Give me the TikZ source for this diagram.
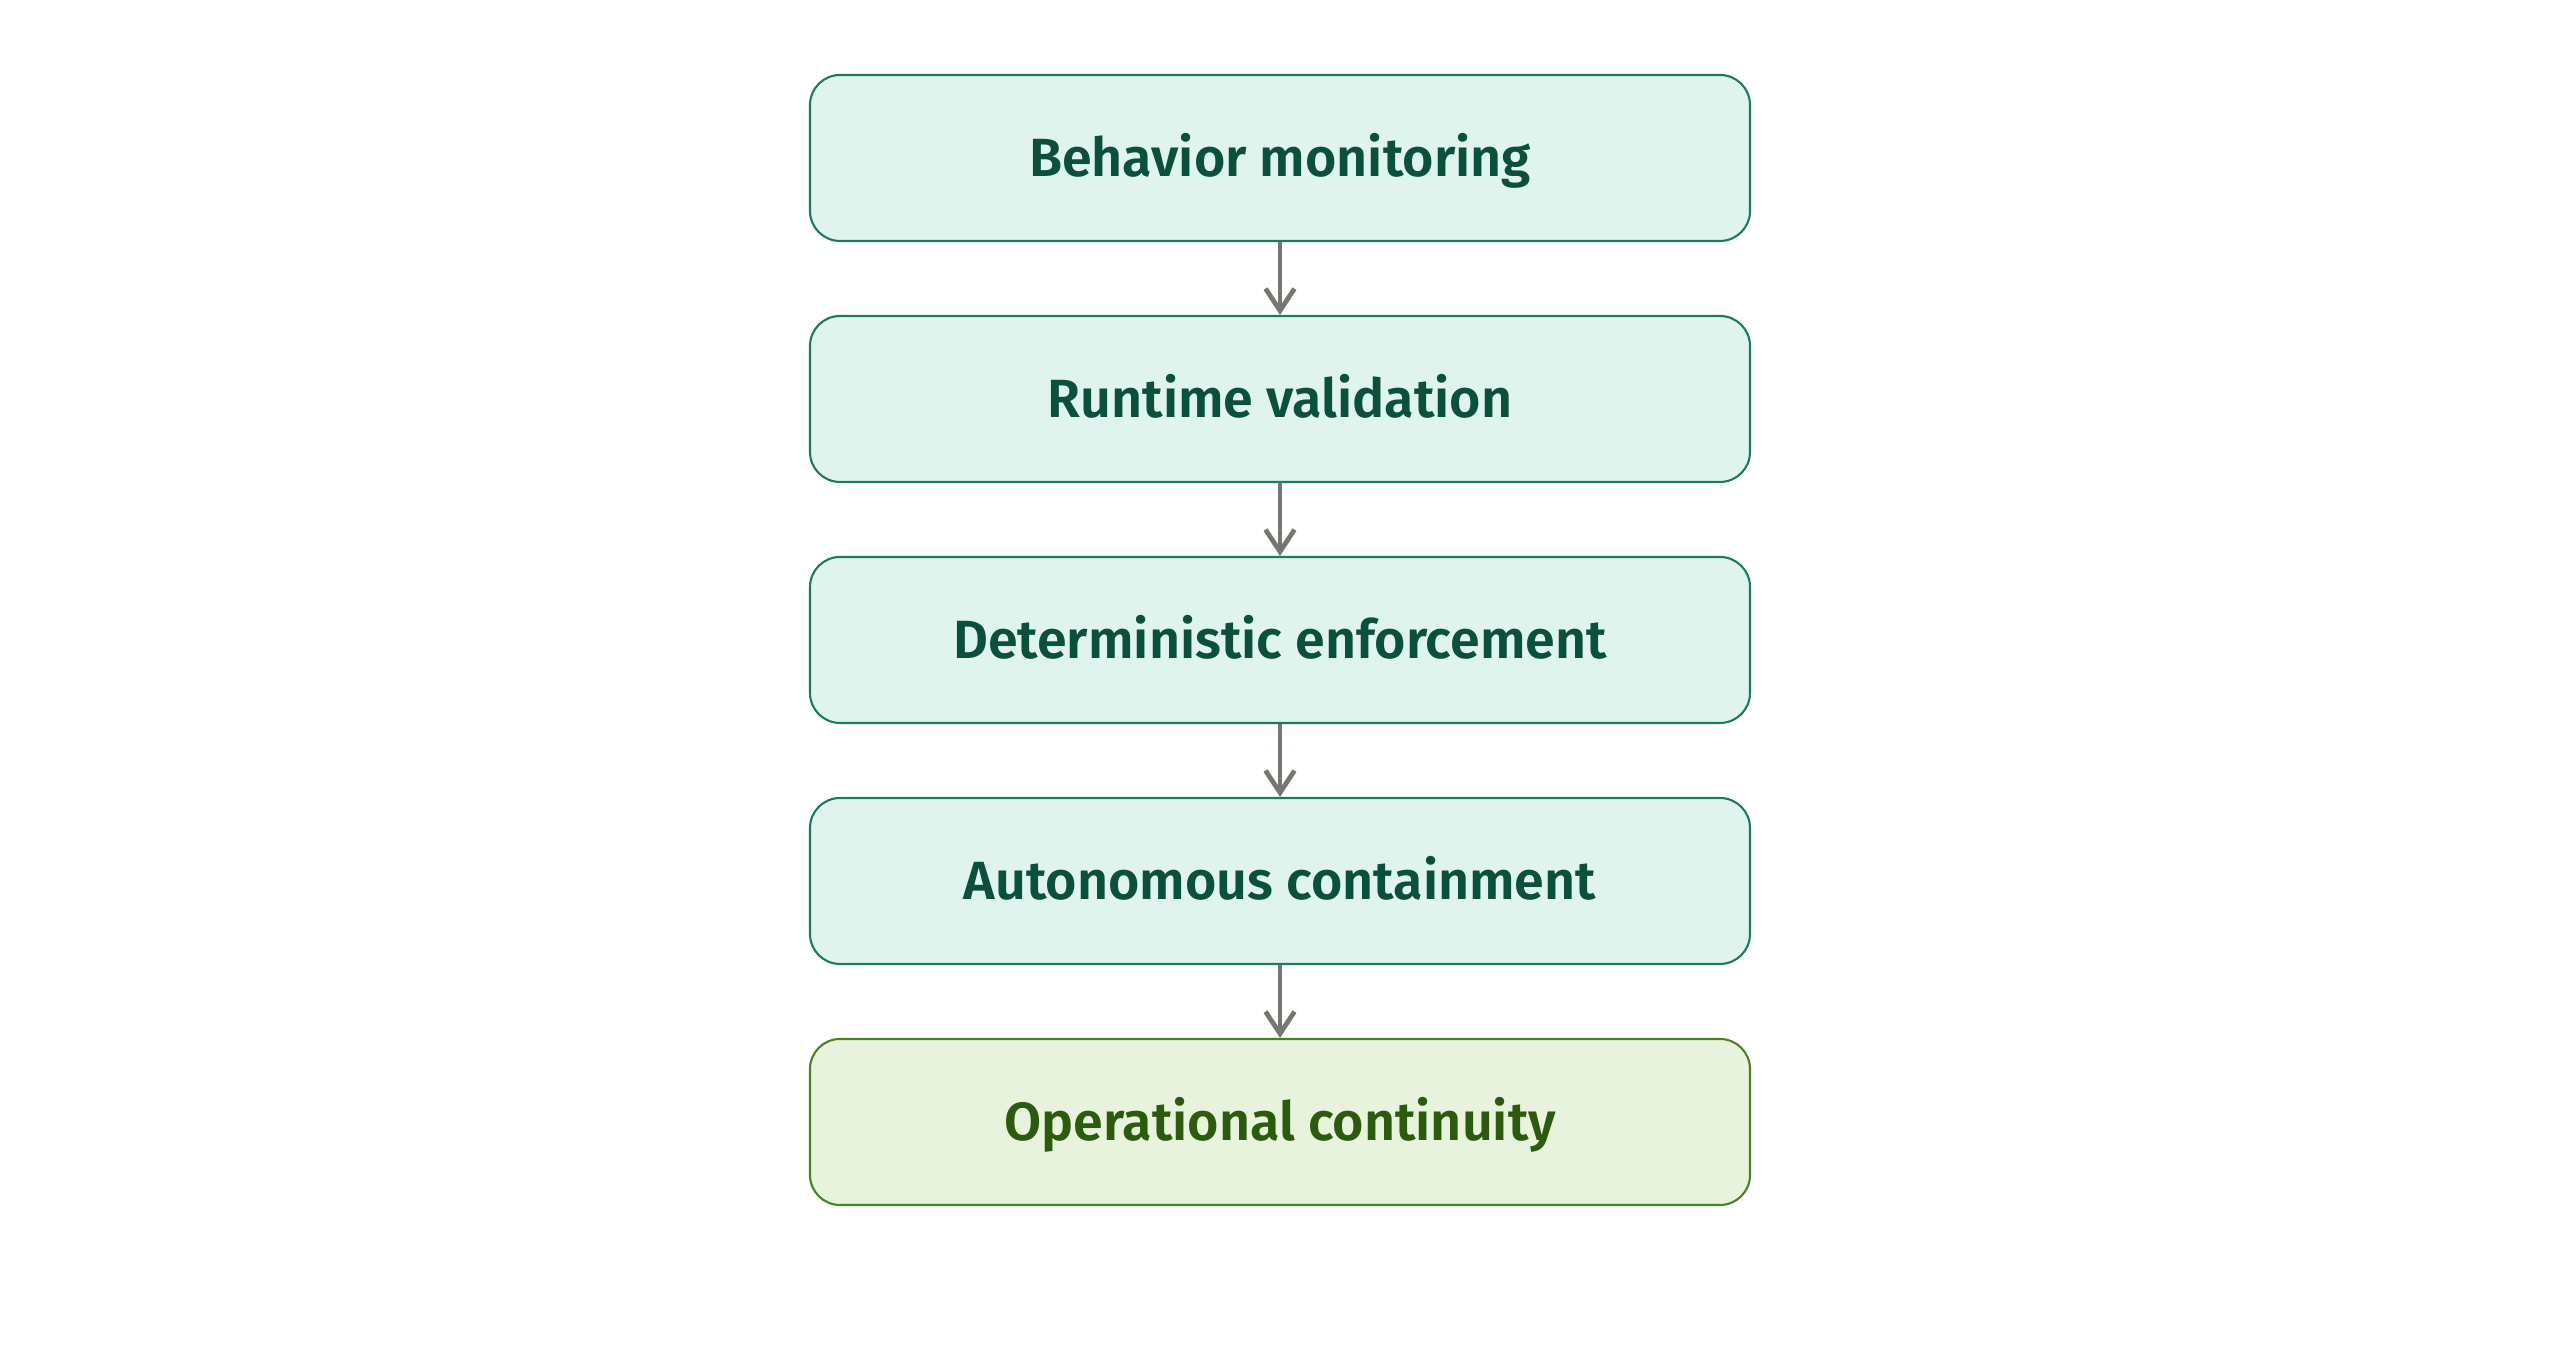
\documentclass[tikz,border=0pt]{standalone}
\usepackage{fontspec}
\setmainfont{Fira Sans SemiBold}
\usetikzlibrary{arrows.meta}
\definecolor{stepfill}{HTML}{E0F4EE}
\definecolor{stepline}{HTML}{1F7A5C}
\definecolor{steptext}{HTML}{0B4F3D}
\definecolor{endfill}{HTML}{E8F3DD}
\definecolor{endline}{HTML}{4C8026}
\definecolor{endtext}{HTML}{2C5A0E}
\definecolor{flowgray}{HTML}{777772}

\begin{document}
\begin{tikzpicture}[
stage/.style={rectangle, rounded corners=0.3cm, draw=stepline, fill=stepfill, line width=0.6pt,
  minimum width=9.4cm, minimum height=1.66cm, text height=0.38cm, text depth=0pt,
  text=steptext, font=\fontsize{15.3}{18}\selectfont},
final/.style={stage, draw=endline, fill=endfill, text=endtext},
flow/.style={-{Straight Barb[length=0.22cm, width=0.29cm]}, draw=flowgray, line width=1.35pt},
node distance=2.41cm
]
\useasboundingbox (0,0) rectangle (25.6,13.55);

% stages
\node[stage] (s1) at (12.8,11.97) {Behavior monitoring};
\node[stage, below of=s1] (s2) {Runtime validation};
\node[stage, below of=s2] (s3) {Deterministic enforcement};
\node[stage, below of=s3] (s4) {Autonomous containment};
\node[final, below of=s4] (s5) {Operational continuity};

% arrows
\draw[flow] (s1) -- (s2);
\draw[flow] (s2) -- (s3);
\draw[flow] (s3) -- (s4);
\draw[flow] (s4) -- (s5);

\end{tikzpicture}
\end{document}
